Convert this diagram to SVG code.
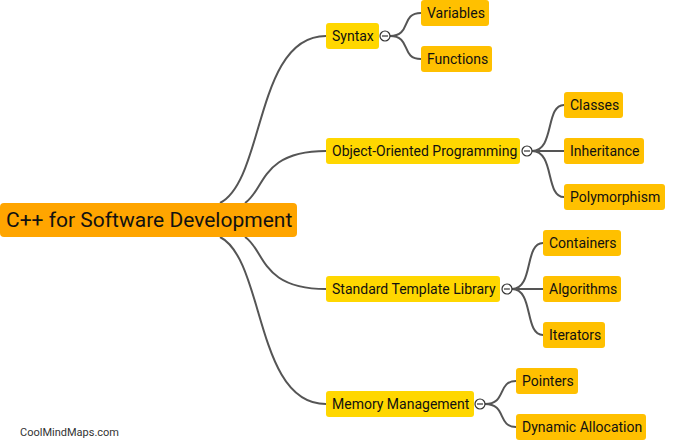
<svg xmlns="http://www.w3.org/2000/svg" width="677" height="440" viewBox="0 0 677 440">
<style>
.l{fill:none;stroke:#555;stroke-width:2}
.r{fill:#FFA500}
.a{fill:#FFD700}
.b{fill:#FFC000}
text{font-family:Roboto,"Liberation Sans",sans-serif;fill:#111}
.t{font-size:14px}
.rt{font-size:21px}
.c{fill:#fff;stroke:#333;stroke-width:1.2}
.m{stroke:#333;stroke-width:1.2}
</style>
<rect width="677" height="440" fill="#fff"/>
<g id="connectors">
<path class="l" d="M220,203 C265,180 255,36 326,36"/>
<path class="l" d="M245,203 C265,190 260,151 326,151"/>
<path class="l" d="M245,237 C265,250 260,289 326,289"/>
<path class="l" d="M220,237 C265,260 255,404 326,404"/>
<path class="l" d="M390,36 C412,36 400,13 421,13"/>
<path class="l" d="M390,36 C412,36 400,59 421,59"/>
<path class="l" d="M532,151 C555,151 545,105 564,105"/>
<path class="l" d="M532,151 L564,151"/>
<path class="l" d="M532,151 C555,151 545,197 564,197"/>
<path class="l" d="M512,289 C534,289 524,243 543,243"/>
<path class="l" d="M512,289 L543,289"/>
<path class="l" d="M512,289 C534,289 524,335 543,335"/>
<path class="l" d="M485,404 C507,404 497,381 516,381"/>
<path class="l" d="M485,404 C507,404 497,427 516,427"/>
</g>
<g id="root"><rect class="r" x="0" y="203" width="297" height="34" rx="4"/><text class="rt" x="6" y="227">C++ for Software Development</text></g>
<g id="syntax"><rect class="a" x="326" y="23" width="53" height="26" rx="3"/><text class="t" x="332" y="41">Syntax</text><circle class="c" cx="385" cy="36" r="5"/><line class="m" x1="382" y1="36" x2="388" y2="36"/></g>
<g id="oop"><rect class="a" x="326" y="138" width="194" height="26" rx="3"/><text class="t" x="332" y="156">Object-Oriented Programming</text><circle class="c" cx="527" cy="151" r="5"/><line class="m" x1="524" y1="151" x2="530" y2="151"/></g>
<g id="stl"><rect class="a" x="326" y="276" width="174" height="26" rx="3"/><text class="t" x="332" y="294">Standard Template Library</text><circle class="c" cx="507" cy="289" r="5"/><line class="m" x1="504" y1="289" x2="510" y2="289"/></g>
<g id="mm"><rect class="a" x="326" y="391" width="148" height="26" rx="3"/><text class="t" x="332" y="409">Memory Management</text><circle class="c" cx="480" cy="404" r="5"/><line class="m" x1="477" y1="404" x2="483" y2="404"/></g>
<g id="variables"><rect class="b" x="421" y="0" width="68" height="26" rx="3"/><text class="t" x="427" y="18">Variables</text></g>
<g id="functions"><rect class="b" x="421" y="46" width="71" height="26" rx="3"/><text class="t" x="427" y="64">Functions</text></g>
<g id="classes"><rect class="b" x="564" y="92" width="59" height="26" rx="3"/><text class="t" x="570" y="110">Classes</text></g>
<g id="inheritance"><rect class="b" x="564" y="138" width="80" height="26" rx="3"/><text class="t" x="570" y="156">Inheritance</text></g>
<g id="polymorphism"><rect class="b" x="564" y="184" width="101" height="26" rx="3"/><text class="t" x="570" y="202">Polymorphism</text></g>
<g id="containers"><rect class="b" x="543" y="230" width="78" height="26" rx="3"/><text class="t" x="549" y="248">Containers</text></g>
<g id="algorithms"><rect class="b" x="543" y="276" width="78" height="26" rx="3"/><text class="t" x="549" y="294">Algorithms</text></g>
<g id="iterators"><rect class="b" x="543" y="322" width="62" height="26" rx="3"/><text class="t" x="549" y="340">Iterators</text></g>
<g id="pointers"><rect class="b" x="516" y="368" width="62" height="26" rx="3"/><text class="t" x="522" y="386">Pointers</text></g>
<g id="dynamic"><rect class="b" x="516" y="414" width="130" height="26" rx="3"/><text class="t" x="522" y="432">Dynamic Allocation</text></g>
<text x="20" y="436" style="font-size:11px;fill:#333">CoolMindMaps.com</text>
</svg>
